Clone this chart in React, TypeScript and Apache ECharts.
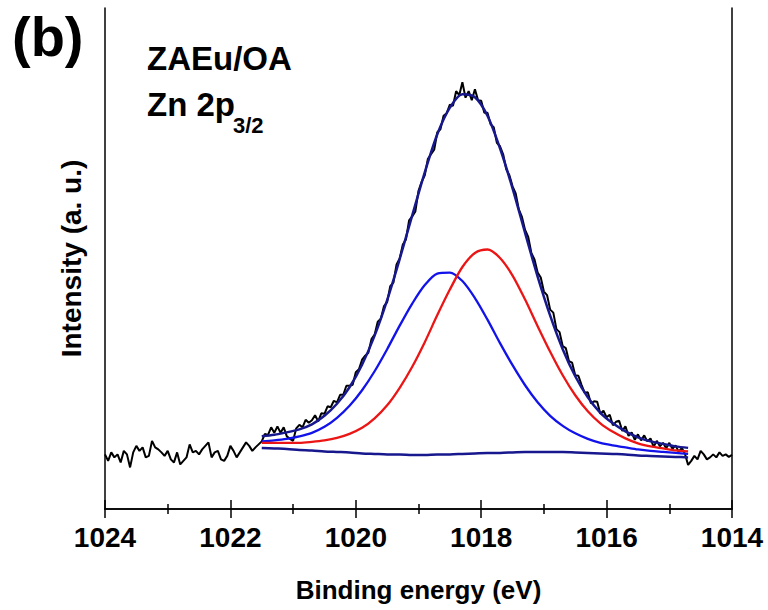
import React, { useEffect, useRef } from 'react';
import * as echarts from 'echarts';

// Measured spectrum (Zn 2p3/2), binding energy from 1024.00 eV down to 1014.00 eV, 0.05 eV step
const measuredStart = 1024.0;
const measuredStep = 0.05;
const measuredIntensity = [
  109, 96, 113, 103, 109, 93, 116, 109, 83, 113,
  126, 116, 123, 103, 106, 136, 123, 119, 113, 106,
  116, 99, 93, 113, 89, 96, 103, 129, 113, 116,
  109, 119, 126, 133, 103, 113, 116, 99, 96, 106,
  126, 116, 103, 113, 123, 133, 126, 116, 123, 129,
  135, 150, 148, 163, 152, 165, 152, 163, 145, 140,
  136, 161, 168, 163, 178, 172, 177, 187, 175, 191,
  190, 205, 203, 216, 213, 228, 228, 246, 246, 248,
  273, 279, 298, 306, 312, 339, 348, 374, 380, 405,
  413, 445, 452, 488, 500, 528, 538, 576, 584, 594,
  635, 653, 666, 699, 708, 717, 752, 758, 785, 790,
  807, 805, 834, 826, 852, 821, 834, 816, 838, 816,
  815, 791, 791, 768, 762, 731, 724, 708, 678, 666,
  644, 630, 598, 583, 557, 543, 511, 498, 472, 462,
  434, 427, 398, 392, 359, 353, 325, 321, 295, 292,
  267, 266, 248, 232, 233, 211, 215, 214, 190, 196,
  183, 188, 167, 174, 176, 156, 165, 146, 153, 138,
  149, 137, 147, 135, 141, 124, 136, 125, 132, 121,
  132, 120, 127, 114, 122, 110, 88,
  96, 106, 99, 116, 109, 99, 103, 109, 103, 113, 106, 109, 104, 108,
];

// Fitted curves, from 1021.5 eV down to 1014.7 eV, 0.2 eV step
const fitStart = 1021.5;
const fitStep = 0.2;
const backgroundFit = [
  122, 121, 120, 118, 117, 115, 114, 113, 111, 110, 109, 109, 108, 108, 109, 109, 110, 111,
  112, 112, 113, 114, 114, 114, 114, 113, 112, 111, 110, 109, 107, 106, 105, 104, 103,
];
const peakBlue = [
  135, 137, 140, 145, 152, 164, 182, 206, 237, 275, 319, 366, 410, 447, 470, 472, 455, 421,
  378, 331, 287, 247, 213, 186, 166, 151, 140, 132, 127, 123, 119, 116, 114, 112, 110,
];
const peakRed = [
  132, 132, 132, 132, 134, 137, 142, 150, 162, 181, 207, 242, 284, 333, 387, 438, 483, 511,
  518, 501, 466, 418, 365, 314, 267, 227, 195, 171, 154, 141, 131, 125, 121, 117, 115,
];
const envelopeFit = [
  145, 148, 153, 159, 169, 186, 210, 243, 288, 346, 417, 499, 586, 672, 748, 801, 828, 822,
  785, 720, 640, 551, 464, 386, 319, 265, 223, 192, 171, 155, 143, 135, 130, 125, 122,
];

const xTitle = 'Binding energy (eV)';
const yTitle = 'Intensity (a. u.)';
const panelLabel = '(b)';
const sampleLabel = 'ZAEu/OA';
const lineLabel = 'Zn 2p';
const lineSub = '3/2';

const FONT = '"Liberation Sans", Arial, Helvetica, sans-serif';

const toPairs = (vals: number[], start: number, step: number) =>
  vals.map((v, i) => [Number((start - i * step).toFixed(2)), v]);

export default function App() {
  const ref = useRef<HTMLDivElement>(null);
  useEffect(() => {
    if (!ref.current) return;
    const chart = echarts.init(ref.current, null, { renderer: 'svg' });
    const navy = '#17178e';
    const xCommon = {
      type: 'value' as const,
      min: 1014,
      max: 1024,
      interval: 2,
      inverse: true,
      splitLine: { show: false },
      axisLine: { show: true, lineStyle: { color: '#000', width: 1.5 } },
      axisTick: { show: true, inside: true, length: 9, lineStyle: { color: '#000', width: 1.5 } },
      minorTick: { show: true, splitNumber: 2, length: 5, lineStyle: { color: '#000', width: 1.5 } },
      minorSplitLine: { show: false },
    };
    chart.setOption({
      animation: false,
      backgroundColor: '#fff',
      grid: { left: 105, right: 36, top: 8, bottom: 101, containLabel: false, outerBoundsMode: 'none' },
      xAxis: [
        {
          ...xCommon,
          position: 'bottom',
          axisLabel: {
            show: true,
            color: '#000',
            fontSize: 28,
            fontWeight: 'bold',
            fontFamily: FONT,
            margin: 14,
            showMinLabel: true,
            showMaxLabel: true,
            formatter: (v: number) => String(v),
          },
          name: xTitle,
          nameLocation: 'middle',
          nameGap: 68,
          nameTextStyle: { color: '#000', fontSize: 26, fontWeight: 'bold', fontFamily: FONT },
        },
        {
          ...xCommon,
          position: 'top',
          axisLabel: { show: false },
        },
      ],
      yAxis: [
        {
          type: 'value',
          min: 0,
          max: 1000,
          position: 'left',
          splitLine: { show: false },
          axisLine: { show: true, lineStyle: { color: '#000', width: 1.5 } },
          axisTick: { show: false },
          axisLabel: { show: false },
          name: yTitle,
          nameLocation: 'middle',
          nameGap: 20,
          nameTextStyle: { color: '#000', fontSize: 28, fontWeight: 'bold', fontFamily: FONT },
        },
        {
          type: 'value',
          min: 0,
          max: 1000,
          position: 'right',
          splitLine: { show: false },
          axisLine: { show: true, lineStyle: { color: '#000', width: 1.5 } },
          axisTick: { show: false },
          axisLabel: { show: false },
        },
      ],
      series: [
        {
          name: 'Measured',
          type: 'line',
          data: toPairs(measuredIntensity, measuredStart, measuredStep),
          showSymbol: false,
          lineStyle: { color: '#000', width: 2 },
          z: 1,
        },
        {
          name: 'Background',
          type: 'line',
          data: toPairs(backgroundFit, fitStart, fitStep),
          showSymbol: false,
          smooth: 0.3,
          lineStyle: { color: navy, width: 2.5 },
          z: 2,
        },
        {
          name: 'Peak 1',
          type: 'line',
          data: toPairs(peakBlue, fitStart, fitStep),
          showSymbol: false,
          smooth: 0.3,
          lineStyle: { color: '#1212ea', width: 2.3 },
          z: 3,
        },
        {
          name: 'Peak 2',
          type: 'line',
          data: toPairs(peakRed, fitStart, fitStep),
          showSymbol: false,
          smooth: 0.3,
          lineStyle: { color: '#ec1515', width: 2.3 },
          z: 4,
        },
        {
          name: 'Envelope',
          type: 'line',
          data: toPairs(envelopeFit, fitStart, fitStep),
          showSymbol: false,
          smooth: 0.3,
          lineStyle: { color: navy, width: 2.5 },
          z: 5,
        },
      ],
      graphic: [
        {
          type: 'text',
          left: 12,
          top: 8,
          style: { text: panelLabel, font: `bold 56px ${FONT}`, fill: '#000' },
        },
        {
          type: 'text',
          x: 147,
          y: 58,
          style: { text: sampleLabel, font: `bold 33px ${FONT}`, fill: '#000', verticalAlign: 'middle' },
        },
        {
          type: 'text',
          x: 147,
          y: 104,
          style: { text: lineLabel, font: `bold 33px ${FONT}`, fill: '#000', verticalAlign: 'middle' },
        },
        {
          type: 'text',
          x: 233,
          y: 125,
          style: { text: lineSub, font: `bold 22px ${FONT}`, fill: '#000', verticalAlign: 'middle' },
        },
      ],
    });
    return () => chart.dispose();
  }, []);
  return (
    <div
      ref={ref}
      style={{ position: 'absolute', left: 0, top: 0, width: 768, height: 610, background: '#fff' }}
    />
  );
}
